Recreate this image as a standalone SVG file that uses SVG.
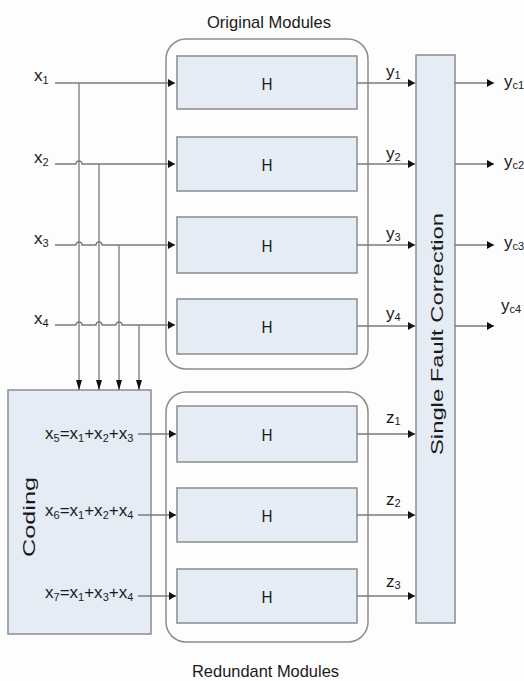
<svg xmlns="http://www.w3.org/2000/svg" width="524" height="681" viewBox="0 0 524 681">
<defs>
<style>
.t{font-family:"Liberation Sans",Arial,sans-serif;fill:#1a1a1a;font-size:17px}
.s{font-size:11px}
.box{fill:#e5ecf5;stroke:#8c8c8c;stroke-width:1.5}
.grp{fill:none;stroke:#8c8c8c;stroke-width:1.5}
.ln{fill:none;stroke:#7a7a7a;stroke-width:1.3}
</style>
<marker id="ah" markerUnits="userSpaceOnUse" markerWidth="8" markerHeight="8" refX="7" refY="4" orient="auto"><path d="M0,0L7,4L0,8z" fill="#111"/></marker>
<marker id="av" markerUnits="userSpaceOnUse" markerWidth="11" markerHeight="7" refX="10" refY="3" orient="auto"><path d="M0,0L10,3L0,6z" fill="#111"/></marker>
</defs>
<rect width="524" height="681" fill="#fdfdfd"/>

<g id="original-modules">
<rect class="grp" x="166" y="39" width="202" height="330" rx="20"/>
<text class="t" x="207" y="28" font-size="19" textLength="124" lengthAdjust="spacingAndGlyphs">Original Modules</text>
</g>
<g id="redundant-modules">
<rect class="grp" x="166" y="392" width="202" height="250" rx="20"/>
<text class="t" x="192" y="677" font-size="19" textLength="147" lengthAdjust="spacingAndGlyphs">Redundant Modules</text>
</g>

<g id="h1"><rect class="box" x="177" y="56" width="180" height="53"/><text class="t" x="267" y="90" font-size="20" text-anchor="middle" textLength="11" lengthAdjust="spacingAndGlyphs">H</text></g>
<g id="h2"><rect class="box" x="177" y="137" width="180" height="54"/><text class="t" x="267" y="171" font-size="20" text-anchor="middle" textLength="11" lengthAdjust="spacingAndGlyphs">H</text></g>
<g id="h3"><rect class="box" x="177" y="217" width="180" height="56"/><text class="t" x="267" y="252" font-size="20" text-anchor="middle" textLength="11" lengthAdjust="spacingAndGlyphs">H</text></g>
<g id="h4"><rect class="box" x="177" y="299" width="180" height="55"/><text class="t" x="267" y="333" font-size="20" text-anchor="middle" textLength="11" lengthAdjust="spacingAndGlyphs">H</text></g>
<g id="h5"><rect class="box" x="177" y="406" width="180" height="56"/><text class="t" x="267" y="441" font-size="20" text-anchor="middle" textLength="11" lengthAdjust="spacingAndGlyphs">H</text></g>
<g id="h6"><rect class="box" x="177" y="488" width="180" height="54"/><text class="t" x="267" y="522" font-size="20" text-anchor="middle" textLength="11" lengthAdjust="spacingAndGlyphs">H</text></g>
<g id="h7"><rect class="box" x="177" y="569" width="180" height="54"/><text class="t" x="267" y="603" font-size="20" text-anchor="middle" textLength="11" lengthAdjust="spacingAndGlyphs">H</text></g>

<g id="sfc">
<rect class="box" x="416" y="55" width="39" height="568"/>
<text class="t" transform="translate(443,334) rotate(-90)" font-size="19" text-anchor="middle" textLength="242" lengthAdjust="spacingAndGlyphs">Single Fault Correction</text>
</g>

<g id="coding">
<rect class="box" x="8" y="390" width="143" height="244"/>
<text class="t" transform="translate(35,517) rotate(-90)" font-size="18" text-anchor="middle" textLength="80" lengthAdjust="spacingAndGlyphs">Coding</text>
<text class="t" x="45" y="439">x<tspan class="s" dy="3">5</tspan><tspan dy="-3">=x</tspan><tspan class="s" dy="3">1</tspan><tspan dy="-3">+x</tspan><tspan class="s" dy="3">2</tspan><tspan dy="-3">+x</tspan><tspan class="s" dy="3">3</tspan></text>
<text class="t" x="45" y="516">x<tspan class="s" dy="3">6</tspan><tspan dy="-3">=x</tspan><tspan class="s" dy="3">1</tspan><tspan dy="-3">+x</tspan><tspan class="s" dy="3">2</tspan><tspan dy="-3">+x</tspan><tspan class="s" dy="3">4</tspan></text>
<text class="t" x="45" y="598">x<tspan class="s" dy="3">7</tspan><tspan dy="-3">=x</tspan><tspan class="s" dy="3">1</tspan><tspan dy="-3">+x</tspan><tspan class="s" dy="3">3</tspan><tspan dy="-3">+x</tspan><tspan class="s" dy="3">4</tspan></text>
</g>

<g id="inputs">
<text class="t" x="34" y="81">x<tspan class="s" dy="3">1</tspan></text>
<text class="t" x="34" y="163">x<tspan class="s" dy="3">2</tspan></text>
<text class="t" x="34" y="244">x<tspan class="s" dy="3">3</tspan></text>
<text class="t" x="34" y="324">x<tspan class="s" dy="3">4</tspan></text>
</g>

<g id="outputs">
<text class="t" x="504" y="87" font-size="16">y<tspan class="s" font-size="10" dy="2">c1</tspan></text>
<text class="t" x="504" y="167" font-size="16">y<tspan class="s" font-size="10" dy="2">c2</tspan></text>
<text class="t" x="504" y="248" font-size="16">y<tspan class="s" font-size="10" dy="2">c3</tspan></text>
<text class="t" x="501" y="311" font-size="16">y<tspan class="s" font-size="10" dy="2">c4</tspan></text>
</g>

<g id="connectors">
<path class="ln" d="M55,83H175" marker-end="url(#ah)"/>
<path class="ln" d="M55,164H76a3,3 0 0 1 6,0H175" marker-end="url(#ah)"/>
<path class="ln" d="M55,245H76a3,3 0 0 1 6,0H96a3,3 0 0 1 6,0H175" marker-end="url(#ah)"/>
<path class="ln" d="M55,325H76a3,3 0 0 1 6,0H96a3,3 0 0 1 6,0H116a3,3 0 0 1 6,0H175" marker-end="url(#ah)"/>
<path class="ln" d="M79,83V390" marker-end="url(#av)"/>
<path class="ln" d="M99,164V390" marker-end="url(#av)"/>
<path class="ln" d="M119,245V390" marker-end="url(#av)"/>
<path class="ln" d="M139,325V390" marker-end="url(#av)"/>
<path class="ln" d="M138,434H176" marker-end="url(#ah)"/>
<path class="ln" d="M138,515H176" marker-end="url(#ah)"/>
<path class="ln" d="M138,596H176" marker-end="url(#ah)"/>
<path class="ln" d="M357,83H415" marker-end="url(#ah)"/>
<path class="ln" d="M357,164H415" marker-end="url(#ah)"/>
<path class="ln" d="M357,245H415" marker-end="url(#ah)"/>
<path class="ln" d="M357,326H415" marker-end="url(#ah)"/>
<path class="ln" d="M357,434H415" marker-end="url(#ah)"/>
<path class="ln" d="M357,515H415" marker-end="url(#ah)"/>
<path class="ln" d="M357,596H415" marker-end="url(#ah)"/>
<path class="ln" d="M455,83H494" marker-end="url(#ah)"/>
<path class="ln" d="M455,164H494" marker-end="url(#ah)"/>
<path class="ln" d="M455,245H494" marker-end="url(#ah)"/>
<path class="ln" d="M455,326H494" marker-end="url(#ah)"/>
<text class="t" x="386" y="77">y<tspan class="s" dy="2">1</tspan></text>
<text class="t" x="386" y="159">y<tspan class="s" dy="2">2</tspan></text>
<text class="t" x="386" y="239">y<tspan class="s" dy="2">3</tspan></text>
<text class="t" x="386" y="319">y<tspan class="s" dy="2">4</tspan></text>
<text class="t" x="386" y="423">z<tspan class="s" dy="2">1</tspan></text>
<text class="t" x="386" y="505">z<tspan class="s" dy="2">2</tspan></text>
<text class="t" x="386" y="587">z<tspan class="s" dy="2">3</tspan></text>
</g>
</svg>
